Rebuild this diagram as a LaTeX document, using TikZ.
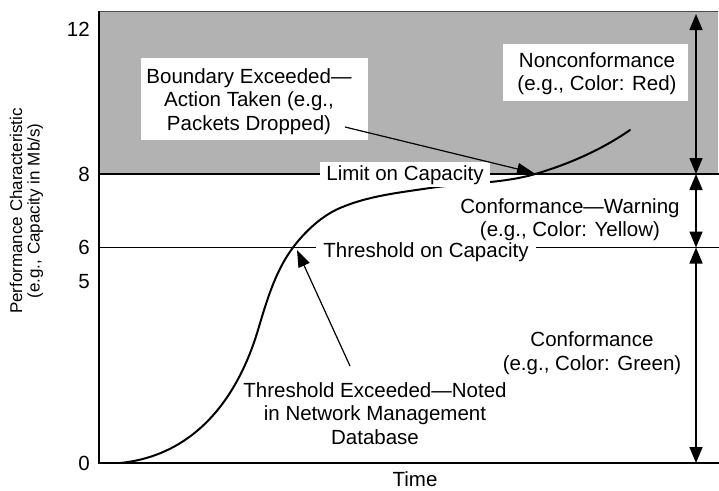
\documentclass[tikz,border=0pt]{standalone}
\usepackage{fontspec}
\setmainfont{Liberation Sans}
\usetikzlibrary{arrows.meta}
\definecolor{bandgray}{gray}{0.70}
\definecolor{edgegray}{gray}{0.30}
\begin{document}
\begin{tikzpicture}[x=1pt,y=-1pt,
  lbl/.style={font=\fontsize{20.5}{23.5}\selectfont, align=center, inner sep=0pt},
  ylbl/.style={font=\fontsize{17}{17.5}\selectfont, align=center, inner sep=0pt},
  whitebox/.style={fill=white, draw=none},
  refline/.style={line width=1.3pt},
  curveline/.style={line width=2pt, line cap=round},
  pointer/.style={line width=1.2pt, -{Triangle[length=17pt,width=12pt]}},
  dim/.style={line width=1.6pt, {Triangle[length=16pt,width=13pt]}-{Triangle[length=16pt,width=13pt]}},
  axisline/.style={line width=2.2pt}
]
\useasboundingbox (0,0) rectangle (719,490);
% nonconformance band
\fill[bandgray] (99,11) rectangle (718,174);
\draw[edgegray, line width=1pt] (99,11) -- (718,11);
% reference lines
\coordinate (limL) at (99,174);
\coordinate (limR) at (719,174);
\coordinate (thrL) at (99,247.5);
\coordinate (thrR) at (719,247.5);
\draw[refline] (limL) -- (limR);
\draw[refline] (thrL) -- (thrR);
% performance curve
\coordinate (c0) at (120,463);
\coordinate (c1) at (258,330);
\coordinate (c2) at (293,247.5);
\coordinate (c3) at (340,208);
\coordinate (c4) at (430,188);
\coordinate (c5) at (537,173.5);
\coordinate (c6) at (630,130);
\draw[curveline] (c0) .. controls (190,456) and (235.6,404.7) .. (c1)
  .. controls (266.6,301.3) and (275,271.5) .. (c2)
  .. controls (305,231.5) and (321.6,215.9) .. (c3)
  .. controls (368.5,195.8) and (399.3,192.6) .. (c4)
  .. controls (465.6,182.7) and (502.5,183.8) .. (c5)
  .. controls (569.6,163.7) and (602,149.5) .. (c6);
% label boxes
\fill[whitebox] (141,58) rectangle (368,140);
\node[lbl, anchor=north] (bnd) at (249,68) {Boundary Exceeded—\\Action Taken (e.g.,\\Packets Dropped)};
\fill[whitebox] (503,44) rectangle (688,101);
\node[lbl, anchor=north] (nonc) at (597,52) {Nonconformance\\(e.g., Color: Red)};
\node[lbl, anchor=base, fill=white, inner xsep=6.5pt, inner ysep=3pt] (limit) at (405,180) {Limit on Capacity};
\node[lbl, anchor=base, fill=white, inner xsep=7pt, inner ysep=3pt] (thresh) at (426,257) {Threshold on Capacity};
\node[lbl, anchor=north] (warn) at (570,198) {Conformance—Warning\\(e.g., Color: Yellow)};
\node[lbl, anchor=north] (green) at (592,331.5) {Conformance\\(e.g., Color: Green)};
\node[lbl, anchor=north] (texc) at (375,382) {Threshold Exceeded—Noted\\in Network Management\\Database};
\node[lbl] (time) at (415,479) {Time};
\node[ylbl, rotate=90] (ylab) at (26.5,211) {Performance Characteristic\\(e.g., Capacity in Mb/s)};
% tick labels
\node[lbl, anchor=east] (t12) at (90,29.5) {12};
\node[lbl, anchor=east] (t8) at (90,174) {8};
\node[lbl, anchor=east] (t6) at (90,247) {6};
\node[lbl, anchor=east] (t5) at (90,282) {5};
\node[lbl, anchor=east] (t0) at (90,463) {0};
% pointers
\coordinate (bA) at (345,127);
\coordinate (bB) at (534,173);
\coordinate (tA) at (350,366);
\coordinate (tB) at (297,250);
\draw[pointer] (bA) -- (bB);
\draw[pointer] (tA) -- (tB);
% dimension arrows
\coordinate (r0) at (696,14);
\coordinate (r1) at (696,174);
\coordinate (r2) at (696,247.5);
\coordinate (r3) at (696,463);
\draw[dim] (r0) -- (r1);
\draw[dim] (r1) -- (r2);
\draw[dim] (r2) -- (r3);
% axes
\coordinate (ax0) at (99,11);
\coordinate (ax1) at (99,463);
\coordinate (ax2) at (719,463);
\draw[axisline] (ax0) -- (ax1) -- (ax2);
\end{tikzpicture}
\end{document}
